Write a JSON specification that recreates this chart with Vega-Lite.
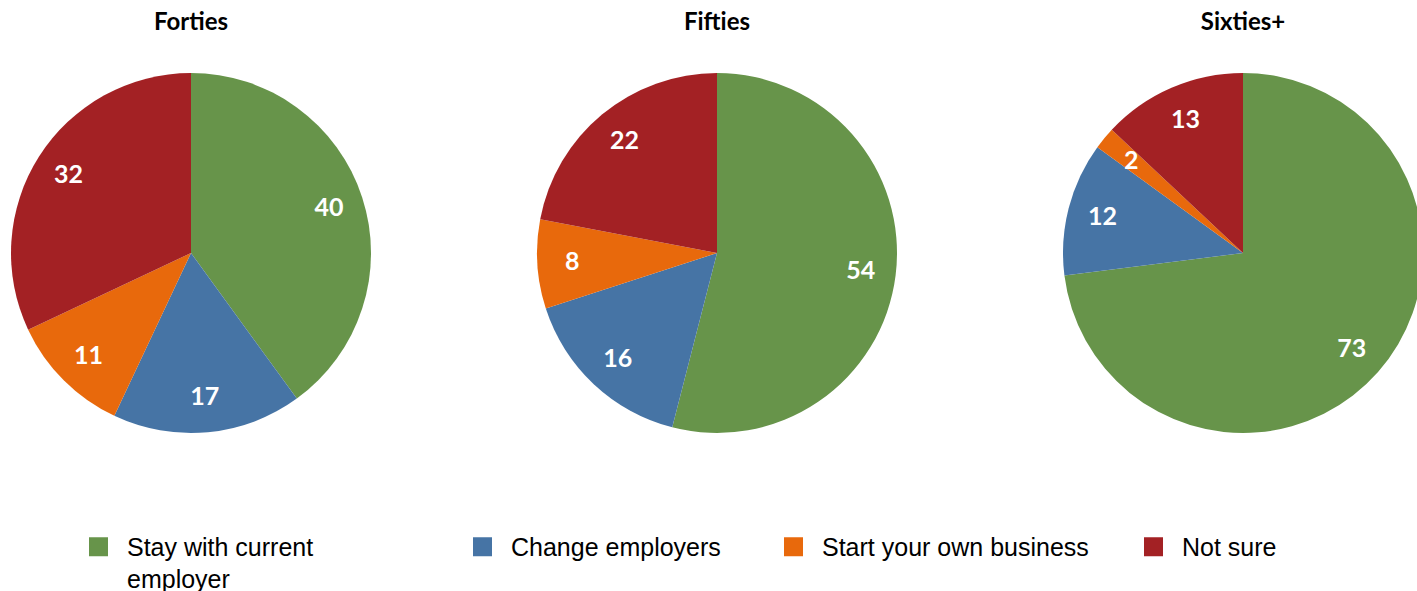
{
  "$schema": "https://vega.github.io/schema/vega-lite/v6.json",
  "padding": {"left": 11, "top": 11, "right": 0, "bottom": 0},
  "data": {"values": [
    {"group": "Forties", "category": "Stay with current employer", "order": 1, "value": 40},
    {"group": "Forties", "category": "Change employers", "order": 2, "value": 17},
    {"group": "Forties", "category": "Start your own business", "order": 3, "value": 11},
    {"group": "Forties", "category": "Not sure", "order": 4, "value": 32},
    {"group": "Fifties", "category": "Stay with current employer", "order": 1, "value": 54},
    {"group": "Fifties", "category": "Change employers", "order": 2, "value": 16},
    {"group": "Fifties", "category": "Start your own business", "order": 3, "value": 8},
    {"group": "Fifties", "category": "Not sure", "order": 4, "value": 22},
    {"group": "Sixties+", "category": "Stay with current employer", "order": 1, "value": 73},
    {"group": "Sixties+", "category": "Change employers", "order": 2, "value": 12},
    {"group": "Sixties+", "category": "Start your own business", "order": 3, "value": 2},
    {"group": "Sixties+", "category": "Not sure", "order": 4, "value": 13}
  ]},
  "spacing": 166,
  "bounds": "flush",
  "resolve": {"legend": {"color": "independent"}},
  "hconcat": [
    {
      "title": "Forties",
      "transform": [{"filter": "datum.group == 'Forties'"}],
      "width": 360, "height": 360,
      "layer": [
        {"mark": {"type": "arc", "outerRadius": 180},
         "encoding": {
           "theta": {"field": "value", "type": "quantitative", "stack": true},
           "order": {"field": "order", "type": "quantitative", "sort": "ascending"},
           "color": {"field": "category", "type": "nominal",
             "scale": {"domain": ["Stay with current employer", "Change employers", "Start your own business", "Not sure"], "range": ["#67944A", "#4674A5", "#E8690C", "#A32124"]},
             "legend": {"orient": "none", "legendX": 75, "legendY": 461, "values": ["Stay with current employer"],
               "labelExpr": "datum.label == 'Stay with current employer' ? ['Stay with current', 'employer'] : datum.label",
               "encode": {"labels": {"update": {"lineHeight": {"value": 32}, "dy": {"value": 9}}}}}
           }
         }},
        {"mark": {"type": "text", "radius": 145, "fill": "white", "fontWeight": "bold", "fontSize": 25, "font": "Lato"},
         "encoding": {
           "theta": {"field": "value", "type": "quantitative", "stack": true},
           "order": {"field": "order", "type": "quantitative", "sort": "ascending"},
           "text": {"field": "value", "type": "quantitative"}
         }}
      ]
    },
    {
      "title": "Fifties",
      "transform": [{"filter": "datum.group == 'Fifties'"}],
      "width": 360, "height": 360,
      "layer": [
        {"mark": {"type": "arc", "outerRadius": 180},
         "encoding": {
           "theta": {"field": "value", "type": "quantitative", "stack": true},
           "order": {"field": "order", "type": "quantitative", "sort": "ascending"},
           "color": {"field": "category", "type": "nominal",
             "legend": {"orient": "none", "legendX": -67, "legendY": 461, "values": ["Change employers", "Start your own business"],
               "encode": {"labels": {"update": {"lineHeight": {"value": 32}, "dy": {"value": 9}}}}}}
         }},
        {"mark": {"type": "text", "radius": 145, "fill": "white", "fontWeight": "bold", "fontSize": 25, "font": "Lato"},
         "encoding": {
           "theta": {"field": "value", "type": "quantitative", "stack": true},
           "order": {"field": "order", "type": "quantitative", "sort": "ascending"},
           "text": {"field": "value", "type": "quantitative"}
         }}
      ]
    },
    {
      "title": "Sixties+",
      "transform": [{"filter": "datum.group == 'Sixties+'"}],
      "width": 360, "height": 360,
      "layer": [
        {"mark": {"type": "arc", "outerRadius": 180},
         "encoding": {
           "theta": {"field": "value", "type": "quantitative", "stack": true},
           "order": {"field": "order", "type": "quantitative", "sort": "ascending"},
           "color": {"field": "category", "type": "nominal",
             "legend": {"orient": "none", "legendX": 78, "legendY": 461, "values": ["Not sure"],
               "encode": {"labels": {"update": {"lineHeight": {"value": 32}, "dy": {"value": 9}}}}}}
         }},
        {"mark": {"type": "text", "radius": 145, "fill": "white", "fontWeight": "bold", "fontSize": 25, "font": "Lato"},
         "encoding": {
           "theta": {"field": "value", "type": "quantitative", "stack": true},
           "order": {"field": "order", "type": "quantitative", "sort": "ascending"},
           "text": {"field": "value", "type": "quantitative"}
         }}
      ]
    }
  ],
  "config": {
    "view": {"stroke": null},
    "title": {"font": "Lato", "fontSize": 24, "fontWeight": "bold", "color": "#000000", "anchor": "middle", "offset": 38},
    "legend": {"direction": "horizontal", "columns": 4, "columnPadding": 60, "title": null, "symbolType": "square", "symbolSize": 361, "symbolStrokeWidth": 0, "symbolOpacity": 1, "labelFontSize": 25, "labelFont": "Liberation Sans", "labelColor": "#000000", "labelOffset": 16, "labelLimit": 600, "labelBaseline": "alphabetic"}
  }
}
